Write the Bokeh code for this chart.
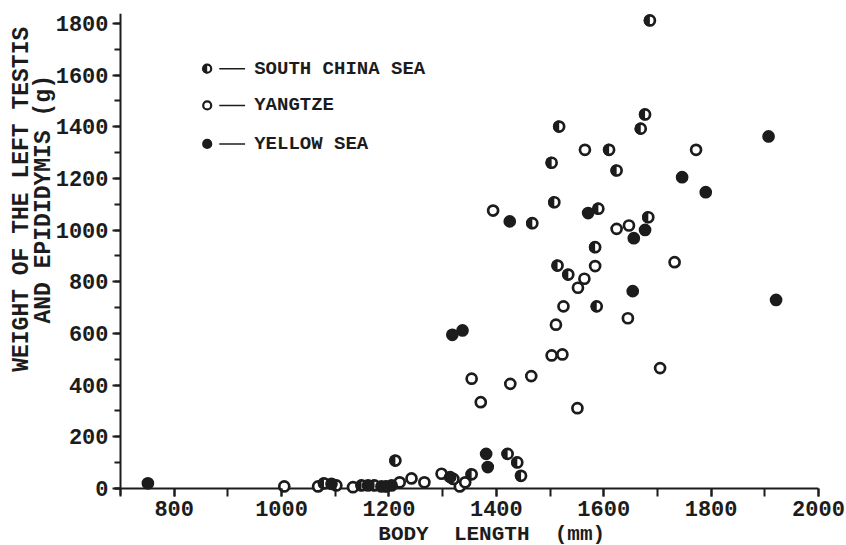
import math
from bokeh.plotting import figure
from bokeh.models import Range1d, SingleIntervalTicker, Label, Span
from bokeh.embed import file_html
from bokeh.resources import INLINE

# ---- data: body length (mm) and weight of left testis + epididymis (g) ----
scs_len = [1686, 1677, 1669, 1517, 1503, 1610, 1624, 1508, 1467, 1590, 1683, 1584,
           1514, 1534, 1587, 1079, 1102, 1149, 1173, 1195, 1212, 1354, 1421, 1439,
           1446, 1320]
scs_wt = [1812, 1448, 1393, 1401, 1261, 1311, 1231, 1108, 1027, 1083, 1050, 934,
          863, 828, 705, 20, 12, 12, 12, 8, 108, 55, 134, 101, 49, 37]

yz_len = [1565, 1772, 1394, 1624, 1647, 1584, 1564, 1552, 1525, 1511, 1503, 1523,
          1354, 1426, 1465, 1371, 1551, 1732, 1645, 1705, 1005, 1068, 1133, 1220,
          1242, 1266, 1298, 1332, 1342]
yz_wt = [1311, 1311, 1076, 1005, 1018, 861, 812, 777, 705, 634, 515, 519,
         425, 405, 435, 334, 311, 876, 659, 466, 8, 8, 5, 24,
         39, 24, 57, 8, 24]

ys_len = [1907, 1746, 1790, 1425, 1571, 1677, 1656, 1318, 1337, 1654, 1921,
          751, 1093, 1161, 1186, 1205, 1314, 1381, 1384]
ys_wt = [1363, 1205, 1147, 1034, 1066, 1001, 969, 595, 612, 764, 730,
         20, 18, 12, 8, 12, 44, 134, 83]

legend_names = ["SOUTH CHINA SEA", "YANGTZE", "YELLOW SEA"]
x_title = "BODY\u00a0\u00a0LENGTH\u00a0\u00a0(mm)"
y_title = ["WEIGHT OF THE LEFT TESTIS", "AND EPIDIDYMIS (g)"]

ink = "#1c1c1c"
FONT = "Liberation Mono"
NB = "\u00a0"

p = figure(frame_width=704, frame_height=482,
           x_range=Range1d(688.83, 2000), y_range=Range1d(-27.1, 1838.7),
           output_backend="svg", toolbar_location=None,
           min_border_left=114, min_border_right=28, min_border_top=13, min_border_bottom=50)
p.outline_line_color = None
p.xgrid.grid_line_color = None
p.ygrid.grid_line_color = None
p.background_fill_color = "white"
p.border_fill_color = "white"

# axis lines at weight 0 and length 700
p.add_layout(Span(location=0, dimension="width", line_color=ink, line_width=2, level="underlay"))
p.add_layout(Span(location=700, dimension="height", line_color=ink, line_width=2, level="underlay"))

# ---- markers ----
MS = 10
LW = 2.7
p.scatter(yz_len, yz_wt, marker="circle", size=MS, fill_color="white",
          line_color=ink, line_width=LW)
p.scatter(scs_len, scs_wt, marker="circle", size=MS, fill_color="white",
          line_color=ink, line_width=LW)
p.wedge(scs_len, scs_wt, radius=6.2, radius_units="screen",
        start_angle=math.pi / 2, end_angle=3 * math.pi / 2,
        fill_color=ink, line_color=None)
p.scatter(ys_len, ys_wt, marker="circle", size=MS, fill_color=ink,
          line_color=ink, line_width=LW)

# ---- axes ----
for ax in (p.xaxis[0], p.yaxis[0]):
    ax.ticker = SingleIntervalTicker(interval=200, num_minor_ticks=2)
    ax.axis_line_color = None
    ax.major_tick_line_color = ink
    ax.major_tick_line_width = 2
    ax.minor_tick_line_color = ink
    ax.minor_tick_line_width = 2
    ax.major_label_text_font = FONT
    ax.major_label_text_font_style = "bold"
    ax.major_label_text_font_size = "22px"
    ax.major_label_text_color = ink
    ax.axis_label_text_font = FONT
    ax.axis_label_text_font_style = "bold"
    ax.axis_label_text_color = ink

xa = p.xaxis[0]
xa.major_tick_in = 7
xa.major_tick_out = 1
xa.minor_tick_in = 7
xa.minor_tick_out = 1
xa.major_label_standoff = 4
xa.axis_label = NB * 4 + x_title
xa.axis_label_text_font_size = "21px"
xa.axis_label_standoff = 4

ya = p.yaxis[0]
ya.major_tick_in = 6
ya.major_tick_out = 2
ya.minor_tick_in = 6
ya.minor_tick_out = 0
ya.major_label_standoff = 4
ya.axis_label = "\n".join(NB * 8 + t for t in y_title)
ya.axis_label_text_font_size = "23px"
ya.axis_label_text_line_height = 0.85
ya.axis_label_standoff = -4

# ---- legend ----
leg_x = 861.5
leg_y = [1625, 1483, 1334]
p.segment(x0=[884] * 3, x1=[932] * 3, y0=leg_y, y1=leg_y, line_color=ink, line_width=1.5)
p.scatter([leg_x] * 2, leg_y[:2], marker="circle", size=8, fill_color="white",
          line_color=ink, line_width=2.2)
p.wedge([leg_x], [leg_y[0]], radius=5, radius_units="screen",
        start_angle=math.pi / 2, end_angle=3 * math.pi / 2, fill_color=ink, line_color=None)
p.scatter([leg_x], [leg_y[2]], marker="circle", size=8, fill_color=ink,
          line_color=ink, line_width=2.2)
for name, yy in zip(legend_names, leg_y):
    p.add_layout(Label(x=949, y=yy, text=name, text_align="left", text_baseline="middle",
                       text_font=FONT, text_font_style="bold", text_font_size="19px",
                       text_color=ink))

open("out.html", "w").write(file_html(p, INLINE))
